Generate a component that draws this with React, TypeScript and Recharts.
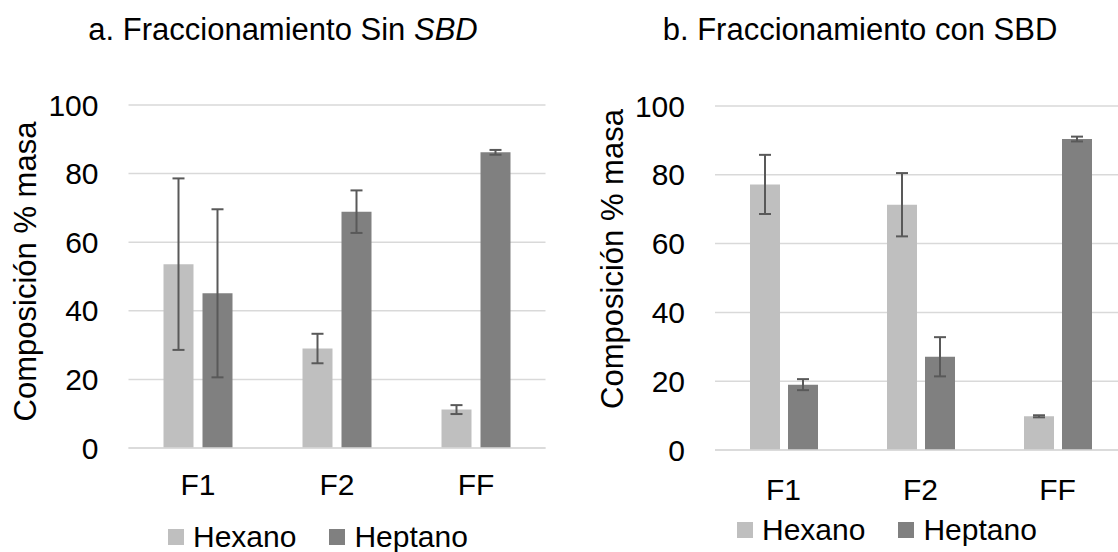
import React from "react";
import { Bar, BarChart, CartesianGrid, ErrorBar, Legend, XAxis, YAxis } from "recharts";

const categories = ["F1", "F2", "FF"];
const series = ["Hexano", "Heptano"];

// a. Sin SBD
const sinHexano = [53.6, 29.0, 11.2];
const sinHexanoErr = [25.0, 4.3, 1.3];
const sinHeptano = [45.1, 68.9, 86.2];
const sinHeptanoErr = [24.5, 6.2, 0.7];

// b. Con SBD
const conHexano = [77.2, 71.3, 9.8];
const conHexanoErr = [8.6, 9.2, 0.3];
const conHeptano = [19.0, 27.1, 90.4];
const conHeptanoErr = [1.6, 5.7, 0.7];

const yTicks = [0, 20, 40, 60, 80, 100];

const FONT = "'Liberation Sans', Arial, sans-serif";
const COLORS = ["#bfbfbf", "#808080"];
const GRID = "#d9d9d9";
const ERR = "#595959";

function buildRows(hex: number[], hexErr: number[], hep: number[], hepErr: number[]) {
  return categories.map((c, i) => ({
    cat: c,
    hex: hex[i],
    hexErr: hexErr[i],
    hep: hep[i],
    hepErr: hepErr[i],
  }));
}

const sinData = buildRows(sinHexano, sinHexanoErr, sinHeptano, sinHeptanoErr);
const conData = buildRows(conHexano, conHexanoErr, conHeptano, conHeptanoErr);

interface PanelProps {
  data: ReturnType<typeof buildRows>;
  width: number;
  yAxisWidth: number;
  marginRight: number;
  top: number;
  xAxisHeight: number;
  legendHeight: number;
  legendPad: number;
  tickMarginX: number;
  labelX: number;
  labelDy: number;
  barGap: number;
}

function Panel(p: PanelProps) {
  const renderYLabel = (props: any) => {
    const vb = props.viewBox || {};
    const cy = vb.y + vb.height / 2 + p.labelDy;
    return (
      <text
        x={p.labelX}
        y={cy}
        transform={`rotate(-90, ${p.labelX}, ${cy})`}
        textAnchor="middle"
        dominantBaseline="central"
        fontSize={31}
        fontFamily={FONT}
        fill="#000"
      >
        Composición % masa
      </text>
    );
  };

  // la leyenda va en el orden de las series, no alfabetico
  const renderLegend = (props: any) => {
    const items = [...(props.payload || [])].sort(
      (a: any, b: any) => series.indexOf(a.value) - series.indexOf(b.value)
    );
    return (
      <div
        style={{
          height: p.legendHeight,
          display: "flex",
          alignItems: "center",
          paddingLeft: p.legendPad,
          fontFamily: FONT,
          fontSize: 30,
          color: "#000",
        }}
      >
        {items.map((it: any, i: number) => (
          <div key={i} style={{ display: "flex", alignItems: "center", marginRight: 33 }}>
            <span style={{ width: 16, height: 16, background: it.color, display: "inline-block", marginRight: 9 }} />
            <span>{it.value}</span>
          </div>
        ))}
      </div>
    );
  };

  return (
    <BarChart
      width={p.width}
      height={552}
      data={p.data}
      margin={{ top: p.top, right: p.marginRight, bottom: 0, left: 0 }}
      barSize={30}
      barGap={p.barGap}
    >
      <CartesianGrid vertical={false} stroke={GRID} strokeWidth={1.5} />
      <XAxis
        dataKey="cat"
        height={p.xAxisHeight}
        tickLine={false}
        tickSize={0}
        tickMargin={p.tickMarginX}
        axisLine={{ stroke: GRID, strokeWidth: 1.5 }}
        tick={{ fontSize: 30, fontFamily: FONT, fill: "#000" }}
      />
      <YAxis
        width={p.yAxisWidth}
        domain={[0, 100]}
        ticks={yTicks}
        interval={0}
        axisLine={false}
        tickLine={false}
        tickSize={0}
        tickMargin={30}
        tick={{ fontSize: 30, fontFamily: FONT, fill: "#000" }}
        label={{ content: renderYLabel }}
      />
      <Legend
        verticalAlign="bottom"
        content={renderLegend}
        wrapperStyle={{ left: 0, bottom: 0, width: p.width, height: p.legendHeight }}
      />
      <Bar dataKey="hex" name={series[0]} fill={COLORS[0]} isAnimationActive={false}>
        <ErrorBar dataKey="hexErr" direction="y" width={6} stroke={ERR} strokeWidth={2} />
      </Bar>
      <Bar dataKey="hep" name={series[1]} fill={COLORS[1]} isAnimationActive={false}>
        <ErrorBar dataKey="hepErr" direction="y" width={6} stroke={ERR} strokeWidth={2} />
      </Bar>
    </BarChart>
  );
}

const titleStyle: React.CSSProperties = {
  position: "absolute",
  top: 12,
  fontFamily: FONT,
  fontSize: 31,
  color: "#000",
  whiteSpace: "nowrap",
  transform: "translateX(-50%)",
};

export default function App() {
  return (
    <div style={{ position: "relative", width: 1118, height: 552, overflow: "hidden", background: "#fff" }}>
      <style>{`body{margin:0}`}</style>
      <div style={{ ...titleStyle, left: 283 }}>
        a. Fraccionamiento Sin <i>SBD</i>
      </div>
      <div style={{ ...titleStyle, left: 860 }}>b. Fraccionamiento con SBD</div>
      <div style={{ position: "absolute", left: 0, top: 0 }}>
        <Panel
          data={sinData}
          width={560}
          yAxisWidth={128.5}
          marginRight={14.5}
          top={105}
          xAxisHeight={74}
          legendHeight={30}
          legendPad={168}
          tickMarginX={26}
          labelX={25}
          labelDy={-5}
          barGap={9}
        />
      </div>
      <div style={{ position: "absolute", left: 560, top: 0 }}>
        <Panel
          data={conData}
          width={580}
          yAxisWidth={155}
          marginRight={14}
          top={106}
          xAxisHeight={58}
          legendHeight={44}
          legendPad={177}
          tickMarginX={29}
          labelX={52}
          labelDy={-19}
          barGap={8}
        />
      </div>
    </div>
  );
}
